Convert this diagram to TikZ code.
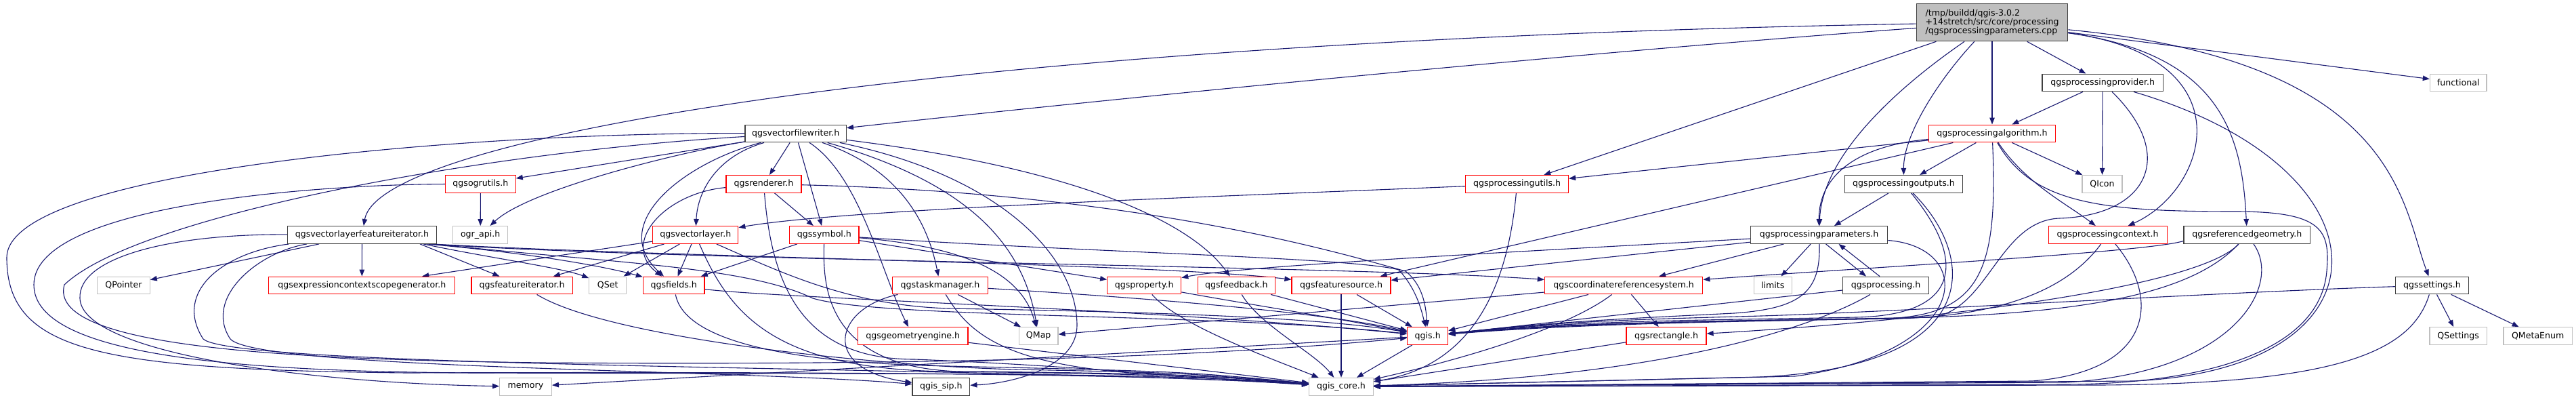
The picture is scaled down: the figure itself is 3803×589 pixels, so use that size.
\documentclass[tikz,border=0pt]{standalone}
\usepackage{fontspec}
\setmainfont{DejaVu Sans}
\usetikzlibrary{arrows.meta}
\pgfdeclarelayer{bg}
\pgfsetlayers{bg,main}
\definecolor{edgec}{HTML}{191970}
\definecolor{redb}{HTML}{FF0000}
\definecolor{grayb}{HTML}{BFBFBF}
\definecolor{blackb}{HTML}{404040}
\begin{document}
\begin{tikzpicture}[x=1pt,y=-1pt,
  nbox/.style={draw,line width=1.2pt,inner sep=0pt,minimum height=25.7pt,fill=white,
    font=\fontsize{12.6}{13.3}\selectfont},
  rbox/.style={nbox,draw=redb},
  gbox/.style={nbox,draw=grayb},
  kbox/.style={nbox,draw=blackb},
  conn/.style={draw=edgec,line width=1.1pt,-{Triangle[length=10pt,width=7.5pt]}}]
\path[use as bounding box] (0,0) rectangle (3803,589);
% nodes
\node[kbox,fill=grayb,minimum width=223.4pt,minimum height=55pt,align=left] (main) at (2941,33.2)
  {/tmp/buildd/qgis-3.0.2\\+14stretch/src/core/processing\\/qgsprocessingparameters.cpp};
\node[kbox,minimum width=178.3pt] (prov) at (3104.2,122) {qgsprocessingprovider.h};
\node[gbox,minimum width=83.6pt] (functional) at (3629.2,122) {functional};
\node[kbox,minimum width=149.3pt] (vfw) at (1174.7,197) {qgsvectorfilewriter.h};
\node[rbox,minimum width=186.5pt] (alg) at (2941,197) {qgsprocessingalgorithm.h};
\node[rbox,minimum width=103.6pt] (ogru) at (709.4,271.4) {qgsogrutils.h};
\node[rbox,minimum width=111pt] (rend) at (1127.5,271.4) {qgsrenderer.h};
\node[rbox,minimum width=151.8pt] (putils) at (2239.6,271.4) {qgsprocessingutils.h};
\node[kbox,minimum width=174.3pt] (pout) at (2810.5,271.4) {qgsprocessingoutputs.h};
\node[gbox,minimum width=59pt] (qicon) at (3103.5,271.4) {QIcon};
\node[kbox,minimum width=220pt] (vlfi) at (534.5,346.5) {qgsvectorlayerfeatureiterator.h};
\node[gbox,minimum width=81.2pt] (ograpi) at (709.2,346.5) {ogr\_api.h};
\node[rbox,minimum width=126pt] (vl) at (1026.8,346.5) {qgsvectorlayer.h};
\node[rbox,minimum width=102.3pt] (sym) at (1216.9,346.5) {qgssymbol.h};
\node[kbox,minimum width=202.4pt] (pp) at (2685.5,346.5) {qgsprocessingparameters.h};
\node[rbox,minimum width=175pt] (ctx) at (3111.6,346.5) {qgsprocessingcontext.h};
\node[kbox,minimum width=186.6pt] (refg) at (3317.3,346.5) {qgsreferencedgeometry.h};
\node[gbox,minimum width=77.5pt] (qpointer) at (182.5,421) {QPointer};
\node[rbox,minimum width=275pt] (ecsg) at (534.3,421) {qgsexpressioncontextscopegenerator.h};
\node[rbox,minimum width=149.4pt] (fit) at (770.6,421) {qgsfeatureiterator.h};
\node[gbox,minimum width=54.7pt] (qset) at (897.2,421) {QSet};
\node[rbox,minimum width=90.6pt] (fields) at (994.7,421) {qgsfields.h};
\node[rbox,minimum width=140.8pt] (task) at (1388,421) {qgstaskmanager.h};
\node[rbox,minimum width=109pt] (prop) at (1689.2,421) {qgsproperty.h};
\node[rbox,minimum width=114.2pt] (fb) at (1825.3,421) {qgsfeedback.h};
\node[rbox,minimum width=146pt] (fs) at (1980,421) {qgsfeaturesource.h};
\node[rbox,minimum width=233.4pt] (crs) at (2397.1,421) {qgscoordinatereferencesystem.h};
\node[gbox,minimum width=55.9pt] (limits) at (2617.2,421) {limits};
\node[kbox,minimum width=126.6pt] (proc) at (2784,421) {qgsprocessing.h};
\node[kbox,minimum width=107.8pt] (settings) at (3590.5,421) {qgssettings.h};
\node[rbox,minimum width=162.5pt] (geng) at (1347.7,495.6) {qgsgeometryengine.h};
\node[gbox,minimum width=57.5pt] (qmap) at (1533.2,495.6) {QMap};
\node[rbox,minimum width=60pt] (qgis) at (2107.7,495.6) {qgis.h};
\node[rbox,minimum width=118pt] (rect) at (2460,495.6) {qgsrectangle.h};
\node[gbox,minimum width=84.5pt] (qsettings) at (3629.2,495.6) {QSettings};
\node[gbox,minimum width=101.5pt] (qmetaenum) at (3746.7,495.6) {QMetaEnum};
\node[gbox,minimum width=76.6pt] (memory) at (776,570.3) {memory};
\node[kbox,minimum width=84.8pt] (sip) at (1389.4,570.3) {qgis\_sip.h};
\node[gbox,minimum width=94.6pt] (core) at (1980,570.3) {qgis\_core.h};
\begin{pgfonlayer}{bg}
% main
\draw[conn] (main) .. controls (2800,130) and (2690,230) .. (pp);
\draw[conn] (main) .. controls (2860,120) and (2810,200) .. (pout);
\draw[conn] (main) -- (alg);
\draw[conn] (main) -- (prov);
\draw[conn] (main) .. controls (2300,80) and (1600,150) .. (vfw);
\draw[conn] (main) .. controls (1400,60) and (560,200) .. (vlfi);
\draw[conn] (main) -- (putils);
\draw[conn] (main) .. controls (3320,85) and (3260,280) .. (ctx);
\draw[conn] (main) .. controls (3280,80) and (3310,200) .. (refg);
\draw[conn] (main) .. controls (3540,90) and (3545,300) .. (settings);
\draw[conn] (main) -- (functional);
% provider
\draw[conn] (prov) -- (alg);
\draw[conn] (prov) -- (qicon);
\draw[conn] (prov) .. controls (3215,230) and (3170,318) .. (3040,322) .. controls (2950,326) and (2935,460) .. (2850,468) .. controls (2550,474) and (2320,474) .. (qgis);
\draw[conn] (prov) .. controls (3540,250) and (3540,545) .. (3150,562) -- (core);
% algorithm
\draw[conn] (alg) -- (pout);
\draw[conn] (alg) .. controls (2740,215) and (2685,260) .. (pp);
\draw[conn] (alg) -- (qicon);
\draw[conn] (alg) .. controls (2990,270) and (3050,300) .. (ctx);
\draw[conn] (alg) -- (putils);
\draw[conn] (alg) -- (fs);
\draw[conn] (alg) .. controls (2950,400) and (2925,466) .. (2780,470) .. controls (2550,474) and (2320,476) .. (qgis);
\draw[conn] (alg) .. controls (3000,300) and (3100,312) .. (3300,312) .. controls (3430,312) and (3440,340) .. (3435,400) .. controls (3425,520) and (3250,566) .. (3050,567) -- (core);
% outputs
\draw[conn] (pout) -- (pp);
\draw[conn] (pout) .. controls (2900,380) and (2900,465) .. (2740,468) .. controls (2550,472) and (2320,472) .. (qgis);
\draw[conn] (pout) .. controls (2920,380) and (2930,540) .. (2600,556) -- (core);
% parameters
\draw[conn] (pp) -- (limits);
\draw[conn] ([xshift=10pt]pp.south) -- ([xshift=-29pt]proc.north);
\draw[conn] ([xshift=-9pt]proc.north) -- ([xshift=29pt]pp.south);
\draw[conn] (pp) .. controls (2688,430) and (2660,455) .. (2560,462) .. controls (2400,470) and (2300,474) .. (qgis);
\draw[conn] (pp) .. controls (2920,365) and (2910,520) .. (2650,555) -- (core);
\draw[conn] (pp) -- (crs);
\draw[conn] (pp) -- (fs);
\draw[conn] (pp) .. controls (2300,368) and (1830,392) .. (prop);
% context
\draw[conn] (ctx) .. controls (3050,430) and (2950,466) .. (2800,470) .. controls (2550,474) and (2320,478) .. (qgis);
\draw[conn] (ctx) .. controls (3190,440) and (3180,548) .. (3000,562) -- (core);
% referenced geometry
\draw[conn] ([yshift=-9pt]refg.west) .. controls (3170,372) and (2750,395) .. (crs);
\draw[conn] (refg) .. controls (3250,420) and (2900,470) .. (rect);
\draw[conn] (refg) .. controls (3230,440) and (3050,466) .. (2760,470) .. controls (2550,473) and (2320,476) .. (qgis);
\draw[conn] (refg) .. controls (3370,420) and (3300,550) .. (3050,564) -- (core);
% settings
\draw[conn] (settings) -- (qsettings);
\draw[conn] (settings) -- (qmetaenum);
\draw[conn] (settings) .. controls (3300,430) and (2800,460) .. (2600,466) .. controls (2420,471) and (2300,474) .. (qgis);
\draw[conn] (settings) .. controls (3560,520) and (3450,566) .. (3100,568) -- (core);
% processing utils
\draw[conn] (putils) .. controls (1800,290) and (1250,308) .. (vl);
\draw[conn] (putils) .. controls (2225,430) and (2170,540) .. (core);
% vector layer feature iterator
\draw[conn] (vlfi) -- (ecsg);
\draw[conn] (vlfi) -- (qpointer);
\draw[conn] ([xshift=-25pt]vlfi.south east) -- (fit);
\draw[conn] ([xshift=-20pt]vlfi.south east) .. controls (720,380) and (830,395) .. (qset);
\draw[conn] ([xshift=-15pt]vlfi.south east) .. controls (800,375) and (900,395) .. (fields);
\draw[conn] ([xshift=-10pt]vlfi.south east) .. controls (1000,385) and (2000,392) .. (crs);
\draw[conn] ([xshift=-7pt]vlfi.south east) .. controls (1000,380) and (1700,388) .. (fs);
\draw[conn] ([xshift=-4pt]vlfi.south east) .. controls (900,388) and (1100,392) .. (1200,440) .. controls (1300,470) and (1800,462) .. (qgis);
\draw[conn] (vlfi) .. controls (250,345) and (115,380) .. (118,440) .. controls (120,520) and (450,565) .. (memory);
\draw[conn] (vlfi) .. controls (330,372) and (255,430) .. (300,500) .. controls (350,545) and (1500,540) .. (core);
\draw[conn] (vlfi) .. controls (380,372) and (300,440) .. (340,500) .. controls (380,545) and (1100,545) .. (sip);
% vector file writer
\draw[conn] (vfw) -- (ogru);
\draw[conn] (vfw) .. controls (1000,225) and (780,280) .. (ograpi);
\draw[conn] (vfw) -- (rend);
\draw[conn] (vfw) -- (sym);
\draw[conn] (vfw) .. controls (1060,230) and (1030,280) .. (vl);
\draw[conn] (vfw) .. controls (1010,240) and (895,330) .. (fields);
\draw[conn] (vfw) .. controls (1330,250) and (1370,330) .. (task);
\draw[conn] (vfw) .. controls (1270,260) and (1300,400) .. (geng);
\draw[conn] (vfw) .. controls (1430,270) and (1510,360) .. (qmap);
\draw[conn] (vfw) .. controls (1600,250) and (1760,330) .. (fb);
\draw[conn] (vfw) .. controls (1480,260) and (1590,380) .. (1590,480) .. controls (1590,540) and (1500,565) .. (sip);
\draw[conn] (vfw) .. controls (700,195) and (10,250) .. (10,380) .. controls (10,520) and (150,545) .. (600,550) .. controls (1300,548) and (1700,552) .. (core);
\draw[conn] (vfw) .. controls (700,225) and (200,320) .. (95,420) .. controls (70,510) and (400,530) .. (800,535) .. controls (1500,540) and (1850,520) .. (qgis);
% renderer
\draw[conn] (rend) -- (sym);
\draw[conn] (rend) .. controls (980,285) and (915,360) .. (fields);
\draw[conn] (rend) .. controls (1700,285) and (2000,380) .. (2075,400) .. controls (2100,420) and (2105,450) .. (qgis);
\draw[conn] (rend) .. controls (1140,430) and (1190,530) .. (1350,530) .. controls (1600,540) and (1800,560) .. (core);
% vector layer
\draw[conn] (vl) -- (fields);
\draw[conn] (vl) -- (qset);
\draw[conn] (vl) -- (fit);
\draw[conn] (vl) -- (ecsg);
\draw[conn] (vl) .. controls (1150,400) and (1250,450) .. (1400,455) .. controls (1700,460) and (1950,468) .. (qgis);
\draw[conn] (vl) .. controls (1080,470) and (1150,545) .. (1400,548) .. controls (1700,552) .. (core);
% symbol
\draw[conn] (sym) -- (fields);
\draw[conn] (sym) .. controls (1440,365) and (1510,410) .. (qmap);
\draw[conn] (sym) -- (prop);
\draw[conn] (sym) .. controls (1600,372) and (2000,380) .. (2065,398) .. controls (2090,425) and (2098,455) .. (qgis);
\draw[conn] (sym) .. controls (1215,420) and (1215,555) .. (1450,548) .. controls (1750,552) .. (core);
% ogr utils
\draw[conn] (ogru) -- (ograpi);
\draw[conn] (ogru) .. controls (480,272) and (50,300) .. (50,420) .. controls (50,525) and (350,548) .. (700,550) .. controls (1300,552) and (1700,548) .. (core);
% lower rows
\draw[conn] (fit) .. controls (900,500) and (1300,540) .. (1500,545) .. controls (1750,550) .. (core);
\draw[conn] (fields) .. controls (1010,500) and (1150,535) .. (1400,540) .. controls (1750,548) .. (core);
\draw[conn] (fields) .. controls (1150,440) and (1700,455) .. (qgis);
\draw[conn] (task) -- (qmap);
\draw[conn] (task) .. controls (1230,455) and (1210,545) .. (sip);
\draw[conn] (task) .. controls (1430,490) and (1480,540) .. (1700,552) .. controls (1850,558) .. (core);
\draw[conn] (task) .. controls (1700,440) and (1950,460) .. (qgis);
\draw[conn] (prop) .. controls (1850,450) and (1950,465) .. (qgis);
\draw[conn] (prop) .. controls (1740,480) and (1880,530) .. (core);
\draw[conn] (fb) .. controls (1860,480) and (1940,520) .. (core);
\draw[conn] (fb) -- (qgis);
\draw[conn] (fs) -- (core);
\draw[conn] (fs) -- (qgis);
\draw[conn] (crs) -- (rect);
\draw[conn] (crs) -- (qgis);
\draw[conn] (crs) .. controls (2320,480) and (2180,525) .. (core);
\draw[conn] (crs) -- (qmap);
\draw[conn] (geng) -- (core);
\draw[conn] (qgis) -- (core);
\draw[conn] (qgis) -- (memory);
\draw[conn] (rect) -- (core);
\draw[conn] (proc) .. controls (2700,470) and (2500,555) .. (core);
\draw[conn] (proc) -- (qgis);
\end{pgfonlayer}
\end{tikzpicture}
\end{document}
